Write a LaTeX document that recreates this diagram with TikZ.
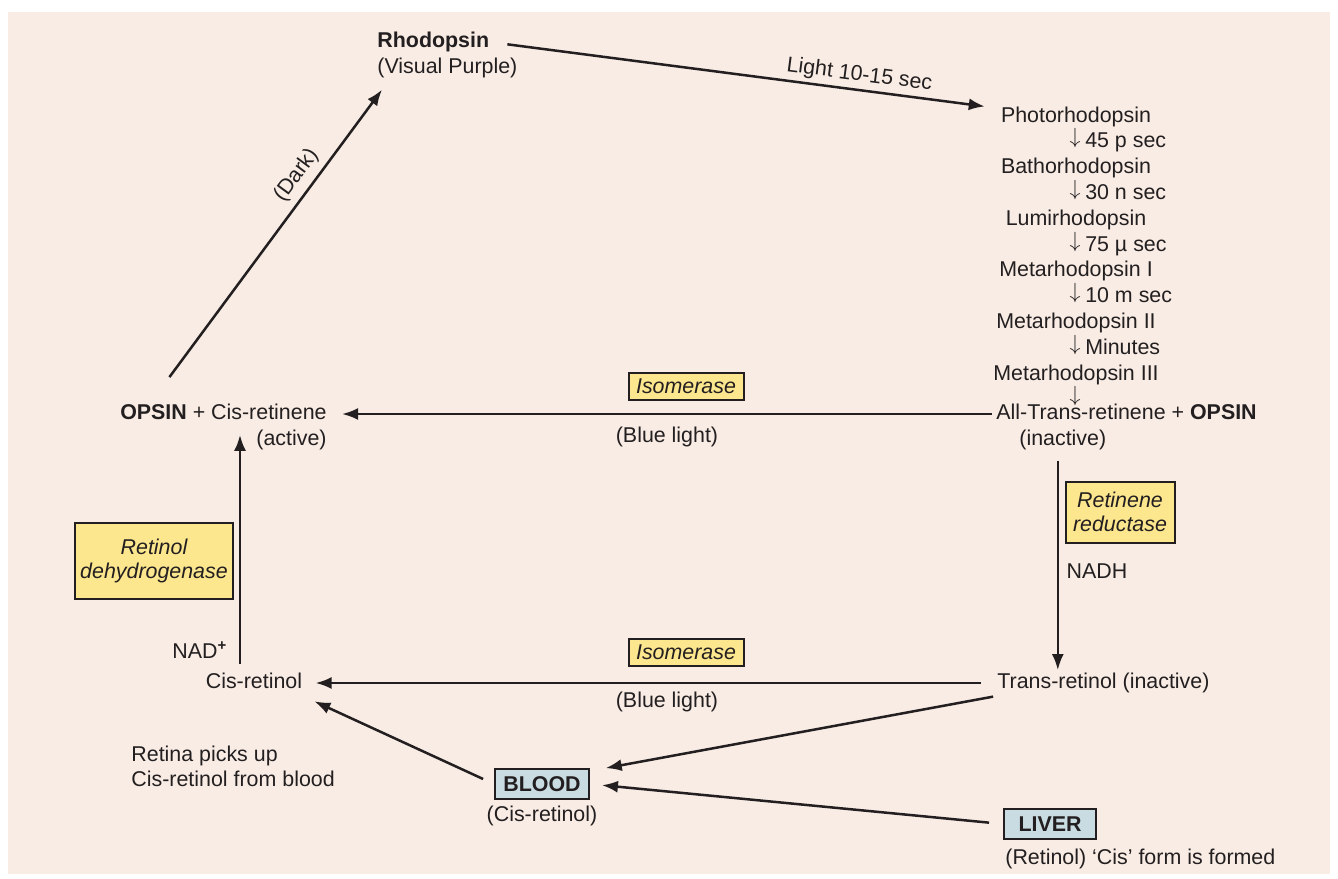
\documentclass[tikz,border=0pt]{standalone}
\usepackage{fontspec}
\setmainfont{Liberation Sans}
\usetikzlibrary{positioning}
\usetikzlibrary{arrows.meta}

\definecolor{ink}{HTML}{231F20}
\definecolor{paper}{HTML}{F8ECE4}
\definecolor{enzfill}{HTML}{FCE68E}
\definecolor{organfill}{HTML}{C9DCE2}

% one step of the bleaching cascade: arrow on the centre line, time to its right
\newcommand{\decay}[1]{\makebox[0pt][l]{\kern-0.3em\raisebox{0.18em}{$\downarrow$}\kern0.22em #1}}

\begin{document}
\begin{tikzpicture}[
        x=0.5pt, y=-0.5pt,
        every node/.style={text=ink},
        lbl/.style={inner sep=0pt, text height=9pt, text depth=3.5pt,
                    font=\fontsize{10.7}{12.5}\selectfont},
        note/.style={inner sep=0pt, align=left,
                     font=\fontsize{10.7}{12.5}\selectfont},
        enzyme/.style={draw=ink, line width=1pt, fill=enzfill, align=center,
                       inner sep=0pt, font=\fontsize{10.7}{12}\selectfont\itshape},
        organ/.style={draw=ink, line width=1pt, fill=organfill, inner sep=0pt,
                      minimum width=47pt, minimum height=15pt,
                      font=\fontsize{10.7}{12.5}\selectfont\bfseries},
        arrow/.style={-{Latex[length=8pt,width=6pt]}, line width=1.25pt, draw=ink}
    ]
        \useasboundingbox (0,0) rectangle (1338,878);
        \fill[paper] (8,12) rectangle (1330,874);

        % top
        \node[lbl, font=\fontsize{10.7}{12.5}\selectfont\bfseries, anchor=west] (rhod) at (377,42) {Rhodopsin};
        \node[lbl, below right=0pt of rhod.south west] (visual) {(Visual Purple)};

        % bleaching cascade
        \node[lbl] (photo) at (1076,116.5) {Photorhodopsin};
        \node[lbl, below=0pt of photo] (lag1) {\decay{45 p sec}};
        \node[lbl, below=0pt of lag1] (batho) {Bathorhodopsin};
        \node[lbl, below=0pt of batho] (lag2) {\decay{30 n sec}};
        \node[lbl, below=0pt of lag2] (lumi) {Lumirhodopsin};
        \node[lbl, below=0pt of lumi] (lag3) {\decay{75 µ sec}};
        \node[lbl, below=0pt of lag3] (metaone) {Metarhodopsin I};
        \node[lbl, below=0pt of metaone] (lag4) {\decay{10 m sec}};
        \node[lbl, below=0pt of lag4] (metatwo) {Metarhodopsin II};
        \node[lbl, below=0pt of metatwo] (lag5) {\decay{Minutes}};
        \node[lbl, below=0pt of lag5] (metathree) {Metarhodopsin III};
        \node[lbl, below=0pt of metathree] (lag6) {\decay{}};

        \node[lbl, anchor=west] (alltrans) at (996,414) {All-Trans-retinene + \textbf{OPSIN}};
        \node[lbl, below right=0pt and 11.5pt of alltrans.south west] (inactive) {(inactive)};

        \node[lbl, anchor=east] (opsin) at (327,414) {\textbf{OPSIN} + Cis-retinene};
        \node[lbl, below left=0pt of opsin.south east] (active) {(active)};

        \node[enzyme, minimum width=57.5pt, minimum height=13.5pt] (isotop) at (686,386) {Isomerase};
        \node[lbl] (bluetop) at (667,437) {(Blue light)};

        % retinol level
        \node[lbl] (cisretinol) at (254,683) {Cis-retinol};
        \node[lbl, anchor=west] (transretinol) at (997,683) {Trans-retinol (inactive)};
        \node[enzyme, minimum width=57.5pt, minimum height=13.5pt] (isobottom) at (686,652) {Isomerase};
        \node[lbl] (bluebottom) at (667,702) {(Blue light)};

        \node[enzyme, minimum width=79pt, minimum height=38pt] (dehyd) at (154,561) {Retinol\\dehydrogenase};
        \node[lbl, anchor=west] (nad) at (172,653) {NAD\textsuperscript{\textbf{+}}};
        \node[enzyme, minimum width=54.5pt, minimum height=30.5pt] (reductase) at (1120,512) {Retinene\\reductase};
        \node[lbl] (nadh) at (1097,573) {NADH};

        % blood supply
        \node[note, anchor=north west] (retina) at (131,746) {Retina picks up\\Cis-retinol from blood};
        \node[organ] (blood) at (542,784) {BLOOD};
        \node[lbl, below=1.5pt of blood] (bloodform) {(Cis-retinol)};
        \node[organ, minimum width=46pt] (liver) at (1050,824) {LIVER};
        \node[lbl, below right=3pt and 1pt of liver.south west] (liverform) {(Retinol) ‘Cis’ form is formed};

        \draw[arrow] ([xshift=-27pt,yshift=12pt]opsin.north) -- node[lbl, sloped, above=2pt, pos=0.665] (darklbl) {(Dark)} ([xshift=2.5pt,yshift=-4.5pt]visual.south west);
        \draw[arrow, shorten <=9pt, shorten >=8pt] (rhod.east) -- node[lbl, sloped, above=0.5pt, pos=0.72] (lightlbl) {Light 10-15 sec} ([yshift=4pt]photo.west);
        \draw[arrow, shorten <=2pt, shorten >=7.5pt] (alltrans.west) -- (opsin.east);
        \draw[arrow, shorten <=8pt, shorten >=6.5pt] (transretinol.west) -- (cisretinol.east);
        \draw[arrow, shorten <=3pt, shorten >=4pt] ([xshift=-7pt]cisretinol.north) -- ([xshift=-7pt]cisretinol.north |- opsin.south);
        \draw[arrow, shorten <=4pt] ([xshift=-2.5pt]inactive.south) -- ([xshift=-2.5pt]inactive.south |- transretinol.north);
        \draw[arrow, shorten <=6pt, shorten >=6.5pt] (blood.west) -- (cisretinol.south east);
        \draw[arrow, shorten <=2pt, shorten >=8pt] (transretinol.south west) -- ([yshift=6.5pt]blood.east);
        \draw[arrow, shorten <=7pt, shorten >=6pt] (liver.west) -- (blood.east);
    \end{tikzpicture}
\end{document}
